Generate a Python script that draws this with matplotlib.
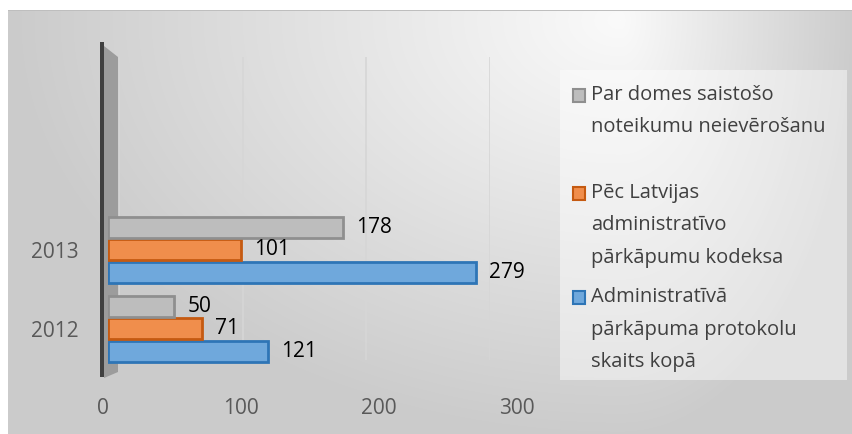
import numpy as np
import matplotlib.pyplot as plt
from matplotlib.patches import Rectangle, Polygon

plt.rcParams['font.family'] = ['Open Sans', 'DejaVu Sans']

years = ['2012', '2013']
series_names = ['Administratīvā\npārkāpuma protokolu\nskaits kopā',
                'Pēc Latvijas\nadministratīvo\npārkāpumu kodeksa',
                'Par domes saistošo\nnoteikumu neievērošanu']
total = [121, 279]
lapk = [71, 101]
saistosie = [50, 178]
x_ticks = [0, 100, 200, 300]

faces = ['#6fa8dc', '#f08e4c', '#bdbdbd']
edges = ['#2e75b6', '#c55a11', '#8f8f8f']

W, H = 852, 434
fig = plt.figure(figsize=(W / 100, H / 100), dpi=100)

def fx(px):
    return px / W

def fy(py):
    return 1 - py / H

# background gradient
bg = fig.add_axes([0, 0, 1, 1], zorder=-10)
xx, yy = np.meshgrid(np.arange(W), np.arange(H))
cx, cy = 620, 20
rx = np.where(xx < cx, 612.0, 240.0)
f = np.sqrt(((xx - cx) / rx) ** 2 + ((yy - cy) / 420.0) ** 2)
f = np.clip(f, 0, 1)
val = (250 - 47 * f) / 255.0
img = np.dstack([val, val, val])
img[:10, :, :] = 1.0
img[:, :8, :] = 1.0
img[10, 8:, :] = 190 / 255.0
bg.imshow(img, extent=[0, W, H, 0], aspect='auto', interpolation='nearest')
bg.set_xlim(0, W)
bg.set_ylim(H, 0)
bg.axis('off')

# legend box
fig.add_artist(Rectangle((fx(560), fy(380)), fx(847) - fx(560), fy(70) - fy(380),
                         transform=fig.transFigure, facecolor='white', alpha=0.45,
                         edgecolor='none', zorder=-5))

# back wall gridlines (3d perspective: back plane is narrower)
ax_grid = fig.add_axes([fx(119), fy(360), fx(490) - fx(119), fy(57) - fy(360)], zorder=-6)
ax_grid.patch.set_alpha(0)
for s in ax_grid.spines.values():
    s.set_visible(False)
ax_grid.set_xlim(0, 300)
ax_grid.set_xticks(x_ticks)
ax_grid.set_yticks([])
ax_grid.tick_params(length=0, labelbottom=False)
ax_grid.grid(axis='x', color='#d6d6d6', linewidth=1.2)

# front floor tick labels
ax_tick = fig.add_axes([fx(103), fy(395), fx(517) - fx(103), 0.001], zorder=-6)
ax_tick.patch.set_alpha(0)
for s in ax_tick.spines.values():
    s.set_visible(False)
ax_tick.set_xlim(0, 300)
ax_tick.set_xticks(x_ticks)
ax_tick.set_xticklabels([str(t) for t in x_ticks])
ax_tick.set_yticks([])
ax_tick.tick_params(length=0, labelsize=15, labelcolor='#595959', pad=2)

# wall
fig.add_artist(Polygon([(fx(104), fy(46)), (fx(118), fy(57)), (fx(118), fy(372)), (fx(104), fy(378))],
                       closed=True, transform=fig.transFigure, facecolor='#9c9c9c',
                       edgecolor='none', zorder=-4))
fig.add_artist(Rectangle((fx(100), fy(377)), fx(104) - fx(100), fy(42) - fy(377),
                         transform=fig.transFigure, facecolor='#404040',
                         edgecolor='none', zorder=-4))

ax = fig.add_axes([fx(108), fy(395), fx(504) - fx(108), fy(57) - fy(395)])
ax.patch.set_alpha(0)
for s in ax.spines.values():
    s.set_visible(False)

y = np.arange(len(years))
h = 0.28
offsets = [-h, 0, h]
data = [total, lapk, saistosie]
for vals, off, fc, ec in zip(data, offsets, faces, edges):
    ax.barh(y + off, vals, height=h * 0.95, color=fc, edgecolor=ec, linewidth=2, zorder=3)
    for yi, v in zip(y, vals):
        ax.text(v + 10, yi + off, str(v), va='center', ha='left',
                fontsize=15, color='black', zorder=4)

ax.set_xlim(0, 300)
ax.set_ylim(-0.835, 3.44)
ax.set_xticks([])
ax.set_yticks(y)
ax.set_yticklabels(years)
ax.tick_params(length=0, labelsize=15, labelcolor='#595959')
ax.tick_params(axis='y', pad=21)

# legend entries
leg_y = [297, 193, 95]
for name, ly, fc, ec in zip(series_names, leg_y, faces, edges):
    fig.add_artist(Rectangle((fx(573), fy(ly + 7)), fx(585) - fx(573), fy(ly - 6) - fy(ly + 7),
                             transform=fig.transFigure, facecolor=fc, edgecolor=ec,
                             linewidth=1.5))
    for i, line in enumerate(name.split('\n')):
        fig.text(fx(591), fy(ly + i * 32.5), line, ha='left', va='center',
                 fontsize=14.5, color='#404040')

fig.savefig('out.png', dpi=100)
